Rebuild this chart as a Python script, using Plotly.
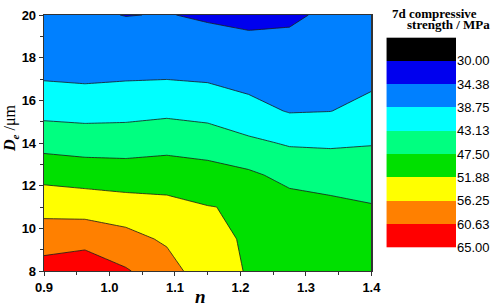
import plotly.graph_objects as go

# ---- data ----
n_values = [0.9, 0.9625, 1.025, 1.0875, 1.15, 1.2125, 1.275, 1.3375, 1.4]
de_values = [8, 9.5, 11, 12.5, 14, 15.5, 17, 18.5, 20]

# 7d compressive strength (MPa), one row per De value
strength_de8 = [62.4, 63.6, 61.0, 58.17, 53.49, 51.62, 50.8, 50.4, 49.7]
strength_de9_5 = [58.71, 59.08, 57.68, 55.62, 52.75, 51.51, 50.2, 49.6, 48.8]
strength_de11 = [54.85, 54.49, 53.77, 53.07, 52.0, 51.43, 49.2, 48.55, 47.76]
strength_de12_5 = [50.56, 49.94, 49.59, 49.87, 49.18, 48.23, 46.28, 45.64, 45.36]
strength_de14 = [46.01, 45.53, 45.53, 46.03, 45.51, 43.97, 42.72, 42.59, 42.92]
strength_de15_5 = [41.87, 41.60, 41.79, 42.26, 41.68, 40.13, 38.50, 38.69, 40.05]
strength_de17 = [38.57, 38.25, 38.55, 38.70, 38.37, 37.47, 36.92, 37.49, 37.93]
strength_de18_5 = [36.5, 36.3, 36.42, 36.4, 35.91, 35.43, 35.35, 36.29, 36.7]
strength_de20 = [35.2, 34.95, 34.28, 34.52, 33.9, 33.40, 33.78, 35.07, 35.5]

levels = [30, 34.375, 38.75, 43.125, 47.5, 51.875, 56.25, 60.625, 65]
level_labels = ["30.00", "34.38", "38.75", "43.13", "47.50", "51.88", "56.25", "60.63", "65.00"]
band_colors = ["#000000", "#0000EE", "#0080FF", "#00FFFF", "#00FF80",
               "#00E000", "#FFFF00", "#FF8000", "#FF0000", "#B00000"]

x_ticks = [0.9, 1.0, 1.1, 1.2, 1.3, 1.4]
y_ticks = [8, 10, 12, 14, 16, 18, 20]

# ---- derived ----
z = [strength_de8, strength_de9_5, strength_de11, strength_de12_5, strength_de14,
     strength_de15_5, strength_de17, strength_de18_5, strength_de20]
step = levels[1] - levels[0]
zlo = levels[0] - step / 2
zhi = levels[-1] + step / 2
ncol = len(band_colors)
colorscale = [[i / (ncol - 1), c] for i, c in enumerate(band_colors)]

band_centers = [levels[0] - step / 2] + [lv + step / 2 for lv in levels[:-1]]

fig = go.Figure()
fig.add_trace(go.Contour(
    x=n_values, y=de_values, z=z,
    colorscale=colorscale,
    contours=dict(start=levels[0], end=levels[-1], size=step,
                  coloring="fill", showlines=True),
    line=dict(color="#1a1a1a", width=0.8, smoothing=0),
    showscale=False, hoverinfo="skip",
))

# colour legend drawn as a heatmap in its own axes
fig.add_trace(go.Heatmap(
    x=[0], y=band_centers, z=[[c] for c in band_centers],
    colorscale=colorscale, zmin=zlo, zmax=zhi,
    showscale=False, xaxis="x2", yaxis="y2", hoverinfo="skip",
))

W, H = 498, 307
ml, mr, mt, mb = 44, 40, 8, 36
pw = W - ml - mr
ph = H - mt - mb

def px_x(px):
    return (px - ml) / pw

def px_y(py):
    return (H - mb - py) / ph

axis_font = dict(family="Liberation Sans, Arial", size=13, color="#000", weight="bold")

fig.update_layout(
    width=W, height=H,
    margin=dict(l=ml, r=mr, t=mt, b=mb),
    paper_bgcolor="white", plot_bgcolor="white",
    showlegend=False,
    xaxis=dict(
        domain=[0, px_x(373)], range=[0.9, 1.4],
        tickvals=x_ticks, ticktext=[f"{v:.1f}" for v in x_ticks],
        ticks="outside", ticklen=4, tickwidth=1, tickcolor="#333",
        minor=dict(dtick=0.05, tick0=0.9, ticks="outside", ticklen=3, tickcolor="#333"),
        showline=True, linecolor="#333", linewidth=1.3, mirror=True,
        showgrid=False, zeroline=False, tickfont=axis_font,
    ),
    yaxis=dict(
        domain=[0, 1], range=[8, 20],
        tickvals=y_ticks,
        ticks="outside", ticklen=4, tickwidth=1, tickcolor="#333",
        minor=dict(dtick=1, tick0=8, ticks="outside", ticklen=3, tickcolor="#333"),
        showline=True, linecolor="#333", linewidth=1.3, mirror=True,
        showgrid=False, zeroline=False, tickfont=axis_font,
    ),
    xaxis2=dict(
        domain=[px_x(388), 1.0], range=[-0.5, 0.5], anchor="y2",
        visible=False, showgrid=False, zeroline=False,
    ),
    yaxis2=dict(
        domain=[px_y(247), px_y(31)], range=[levels[-1], levels[0] - step], anchor="x2",
        side="right", tickvals=levels, ticktext=level_labels, ticks="",
        tickfont=dict(family="Liberation Sans, Arial", size=13, color="#000"),
        showline=False, showgrid=False, zeroline=False,
    ),
    annotations=[
        dict(text="<b>7d compressive</b>", x=px_x(436), y=px_y(6), xref="paper", yref="paper",
             showarrow=False, xanchor="center", yanchor="middle",
             font=dict(family="Liberation Serif, Times New Roman", size=13, color="#000")),
        dict(text="<b>strength / MPa</b>", x=px_x(450), y=px_y(18), xref="paper", yref="paper",
             showarrow=False, xanchor="center", yanchor="middle",
             font=dict(family="Liberation Serif, Times New Roman", size=13, color="#000")),
        dict(text="<b><i>D</i></b><sub><i><b>e</b></i></sub> /μm", x=px_x(11), y=px_y(124),
             xref="paper", yref="paper", textangle=-90,
             showarrow=False, xanchor="center", yanchor="middle",
             font=dict(family="Liberation Serif, Times New Roman", size=16, color="#000")),
        dict(text="<b><i>n</i></b>", x=px_x(201), y=px_y(297), xref="paper", yref="paper",
             showarrow=False, xanchor="center", yanchor="middle",
             font=dict(family="Liberation Serif, Times New Roman", size=19, color="#000")),
    ],
)

fig.write_html("out.html", config={"displayModeBar": False, "staticPlot": True},
               post_script="document.body.style.margin='0';")
